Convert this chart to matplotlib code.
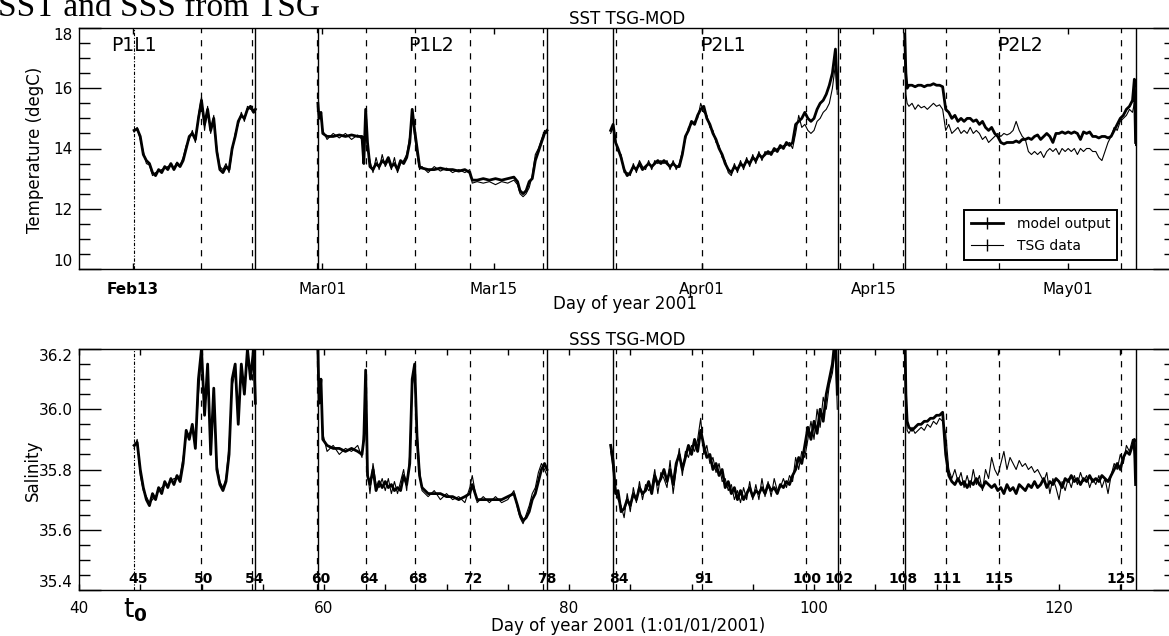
import matplotlib
matplotlib.use("Agg")
import matplotlib.pyplot as plt
from matplotlib.ticker import MultipleLocator
from matplotlib.lines import Line2D

# ---- data (day of year 2001) ----
leg1_day = [44.5, 44.75, 45.0, 45.25, 45.5, 45.75, 46.0, 46.25, 46.5, 46.75,
            47.0, 47.25, 47.5, 47.75, 48.0, 48.25, 48.5, 48.75, 49.0, 49.25,
            49.5, 49.75, 50.0, 50.25, 50.5, 50.75, 51.0, 51.25, 51.5, 51.75,
            52.0, 52.25, 52.5, 52.75, 53.0, 53.25, 53.5, 53.75, 54.0, 54.25, 54.4]
leg1_sst_mod = [14.6, 14.65, 14.4, 13.8, 13.6, 13.5, 13.2, 13.1, 13.3, 13.2,
                13.4, 13.3, 13.5, 13.3, 13.5, 13.4, 13.6, 14.0, 14.4, 14.5,
                14.3, 15.0, 15.6, 14.8, 15.3, 14.6, 15.0, 13.9, 13.3, 13.2,
                13.4, 13.3, 14.0, 14.4, 14.9, 15.1, 15.0, 15.3, 15.4, 15.2, 15.3]
leg1_sst_tsg = [14.55, 14.7, 14.3, 13.9, 13.5, 13.45, 13.1, 13.2, 13.25, 13.3,
                13.35, 13.4, 13.45, 13.35, 13.55, 13.45, 13.7, 14.1, 14.3, 14.6,
                14.2, 15.1, 15.7, 14.6, 15.4, 14.5, 15.1, 14.0, 13.4, 13.3,
                13.5, 13.2, 13.9, 14.5, 14.8, 15.2, 14.9, 15.4, 15.3, 15.3, 15.2]
leg1_sss_mod = [35.88, 35.89, 35.80, 35.74, 35.70, 35.68, 35.72, 35.70, 35.74, 35.72,
                35.76, 35.74, 35.77, 35.75, 35.78, 35.76, 35.82, 35.93, 35.90, 35.95,
                35.87, 36.10, 36.20, 35.98, 36.15, 35.85, 36.07, 35.80, 35.75, 35.73,
                35.76, 35.85, 36.10, 36.15, 35.95, 36.15, 36.05, 36.20, 36.10, 36.20, 36.02]
leg1_sss_tsg = [35.87, 35.90, 35.78, 35.73, 35.71, 35.69, 35.70, 35.71, 35.73, 35.74,
                35.75, 35.75, 35.76, 35.77, 35.77, 35.78, 35.84, 35.91, 35.92, 35.93,
                35.89, 36.05, 36.18, 36.00, 36.12, 35.88, 36.05, 35.82, 35.76, 35.74,
                35.77, 35.88, 36.08, 36.12, 35.98, 36.12, 36.08, 36.17, 36.12, 36.18, 36.05]

leg2_day = [59.5, 59.6, 59.75, 59.9, 60.25, 60.75, 61.25, 61.75, 62.25, 62.75,
            63.1, 63.25, 63.4, 63.55, 63.75, 64.0, 64.25, 64.5, 64.75, 65.0,
            65.25, 65.5, 65.75, 66.0, 66.25, 66.5, 66.75, 67.0, 67.2, 67.4,
            67.6, 67.8, 68.0, 68.5, 69.0, 69.5, 70.0, 70.5, 71.0, 71.5,
            71.9, 72.1, 72.5, 73.0, 73.5, 74.0, 74.5, 75.0, 75.5, 75.8,
            76.0, 76.25, 76.5, 76.75, 77.0, 77.25, 77.5, 77.75, 78.0, 78.2]
leg2_sst_mod = [15.5, 15.0, 15.2, 14.5, 14.4, 14.4, 14.45, 14.4, 14.45, 14.4,
                14.4, 13.5, 15.3, 14.2, 13.4, 13.3, 13.5, 13.4, 13.6, 13.5,
                13.7, 13.4, 13.5, 13.3, 13.6, 13.5, 13.7, 14.2, 15.3, 14.6,
                14.0, 13.4, 13.35, 13.3, 13.3, 13.35, 13.3, 13.3, 13.25, 13.3,
                13.2, 12.95, 12.95, 13.0, 12.95, 13.0, 12.95, 13.0, 13.05, 12.9,
                12.6, 12.5, 12.6, 12.9, 13.0, 13.6, 13.9, 14.2, 14.5, 14.6]
leg2_sst_tsg = [15.4, 15.1, 15.0, 14.6, 14.3, 14.5, 14.35, 14.5, 14.3, 14.45,
                14.3, 13.7, 15.1, 14.0, 13.6, 13.2, 13.7, 13.3, 13.8, 13.4,
                13.6, 13.3, 13.7, 13.2, 13.5, 13.6, 13.8, 14.4, 15.1, 14.4,
                13.8, 13.3, 13.4, 13.2, 13.4, 13.25, 13.35, 13.2, 13.3, 13.2,
                13.3, 12.85, 12.9, 12.85, 12.9, 12.8, 12.9, 12.85, 12.95, 12.8,
                12.5, 12.4, 12.5, 12.7, 13.1, 13.8, 14.0, 14.3, 14.6, 14.5]
leg2_sss_mod = [36.2, 36.02, 36.1, 35.9, 35.88, 35.87, 35.87, 35.86, 35.87, 35.86,
                35.85, 35.9, 36.13, 35.78, 35.75, 35.8, 35.73, 35.76, 35.74, 35.76,
                35.74, 35.75, 35.73, 35.74, 35.73, 35.78, 35.75, 35.82, 36.1, 36.15,
                35.9, 35.78, 35.74, 35.72, 35.72, 35.72, 35.71, 35.71, 35.7, 35.71,
                35.72, 35.75, 35.7, 35.7, 35.7, 35.7, 35.7, 35.71, 35.72, 35.68,
                35.65, 35.63, 35.64, 35.66, 35.7, 35.72, 35.76, 35.8, 35.82, 35.8]
leg2_sss_tsg = [36.15, 36.05, 36.08, 35.92, 35.86, 35.88, 35.85, 35.87, 35.86, 35.88,
                35.84, 35.93, 36.1, 35.8, 35.72, 35.82, 35.75, 35.74, 35.77, 35.73,
                35.77, 35.72, 35.76, 35.72, 35.76, 35.8, 35.73, 35.85, 36.08, 36.12,
                35.93, 35.8, 35.73, 35.71, 35.73, 35.7, 35.72, 35.7, 35.71, 35.69,
                35.74, 35.78, 35.69, 35.71, 35.69, 35.71, 35.69, 35.7, 35.73, 35.67,
                35.64, 35.62, 35.65, 35.68, 35.72, 35.74, 35.79, 35.82, 35.8, 35.78]

leg3_day = [83.4, 83.6, 83.8,
            84.0, 84.25, 84.5, 84.75, 85.0, 85.25, 85.5, 85.75, 86.0, 86.25, 86.5, 86.75,
            87.0, 87.25, 87.5, 87.75, 88.0, 88.25, 88.5, 88.75, 89.0, 89.25, 89.5, 89.75,
            90.0, 90.25, 90.5, 90.75, 91.0, 91.25, 91.5, 91.75, 92.0, 92.25, 92.5, 92.75,
            93.0, 93.25, 93.5, 93.75, 94.0, 94.25, 94.5, 94.75, 95.0, 95.25, 95.5, 95.75,
            96.0, 96.25, 96.5, 96.75, 97.0, 97.25, 97.5, 97.75, 98.0, 98.25, 98.5, 98.75,
            99.0, 99.25, 99.5, 99.75, 100.0, 100.25, 100.5, 100.75, 101.0, 101.25, 101.5, 101.75,
            101.9]
leg3_sst_mod = [14.6, 14.8, 14.2,
                14.0, 13.7, 13.3, 13.1, 13.2, 13.4, 13.3, 13.5, 13.3, 13.4, 13.5, 13.4,
                13.5, 13.6, 13.5, 13.6, 13.5, 13.4, 13.5, 13.4, 13.4, 13.8, 14.4, 14.6,
                14.9, 14.8, 15.1, 15.3, 15.4, 15.0, 14.8, 14.5, 14.3, 14.0, 13.8, 13.5,
                13.3, 13.2, 13.4, 13.3, 13.5, 13.4, 13.6, 13.5, 13.7, 13.6, 13.8, 13.7,
                13.8, 13.9, 13.8, 14.0, 13.9, 14.1, 14.0, 14.2, 14.1, 14.2, 14.8, 14.9,
                15.0, 15.2, 15.0, 14.9, 15.0, 15.3, 15.5, 15.6, 15.8, 16.1, 16.5, 17.3,
                16.0]
leg3_sst_tsg = [14.5, 14.7, 14.3,
                13.9, 13.8, 13.2, 13.2, 13.1, 13.5, 13.2, 13.6, 13.4, 13.3, 13.6, 13.3,
                13.6, 13.5, 13.6, 13.5, 13.6, 13.3, 13.6, 13.3, 13.5, 13.9, 14.3, 14.7,
                14.8, 14.9, 15.0, 15.5, 15.2, 15.1, 14.7, 14.6, 14.2, 14.1, 13.7, 13.6,
                13.2, 13.1, 13.5, 13.2, 13.6, 13.3, 13.7, 13.4, 13.8, 13.5, 13.9, 13.6,
                13.9, 13.8, 13.9, 13.9, 14.0, 14.0, 14.1, 14.1, 14.2, 14.0, 14.5, 15.1,
                14.7, 14.8, 14.6, 14.5, 14.6, 14.9, 15.0, 15.2, 15.3, 15.5, 16.0, 16.8,
                15.8]
leg3_sss_mod = [35.88, 35.83, 35.72,
                35.73, 35.66, 35.67, 35.70, 35.68, 35.72, 35.70, 35.74, 35.72, 35.73, 35.76, 35.72,
                35.78, 35.75, 35.77, 35.80, 35.76, 35.80, 35.75, 35.82, 35.85, 35.80, 35.84, 35.88,
                35.85, 35.90, 35.86, 35.93, 35.88, 35.84, 35.85, 35.80, 35.82, 35.78, 35.80, 35.74,
                35.76, 35.72, 35.74, 35.70, 35.73, 35.70, 35.72, 35.74, 35.71, 35.73, 35.72, 35.74,
                35.72, 35.75, 35.73, 35.74, 35.72, 35.75, 35.74, 35.76, 35.75, 35.78, 35.80, 35.84,
                35.82, 35.88, 35.94, 35.90, 35.96, 35.92, 36.00, 35.96, 36.05, 36.10, 36.15, 36.25,
                36.05]
leg3_sss_tsg = [35.86, 35.80, 35.74,
                35.70, 35.68, 35.64, 35.72, 35.66, 35.74, 35.69, 35.76, 35.70, 35.75, 35.73, 35.74,
                35.80, 35.72, 35.79, 35.77, 35.74, 35.83, 35.72, 35.80, 35.87, 35.78, 35.86, 35.84,
                35.88, 35.86, 35.90, 35.97, 35.85, 35.88, 35.82, 35.84, 35.79, 35.82, 35.76, 35.77,
                35.73, 35.75, 35.70, 35.73, 35.69, 35.74, 35.70, 35.76, 35.70, 35.75, 35.70, 35.77,
                35.71, 35.76, 35.71, 35.77, 35.73, 35.74, 35.77, 35.74, 35.78, 35.76, 35.84, 35.80,
                35.86, 35.84, 35.90, 35.96, 35.90, 36.00, 35.94, 36.04, 36.00, 36.08, 36.12, 36.20,
                36.00]

leg4_day = [107.4, 107.5, 107.6, 107.75,
            108.0, 108.25, 108.5, 108.75, 109.0, 109.25, 109.5, 109.75, 110.0, 110.25, 110.5, 110.75,
            111.0, 111.25, 111.5, 111.75, 112.0, 112.25, 112.5, 112.75, 113.0, 113.25, 113.5, 113.75,
            114.0, 114.25, 114.5, 114.75, 115.0, 115.25, 115.5, 115.75, 116.0, 116.25, 116.5, 116.75,
            117.0, 117.25, 117.5, 117.75, 118.0, 118.25, 118.5, 118.75, 119.0, 119.25, 119.5, 119.75,
            120.0, 120.25, 120.5, 120.75, 121.0, 121.25, 121.5, 121.75, 122.0, 122.25, 122.5, 122.75,
            123.0, 123.25, 123.5, 123.75, 124.0, 124.25, 124.5, 124.75, 125.0, 125.25, 125.5, 125.75,
            126.0, 126.15, 126.25]
leg4_sst_mod = [17.8, 16.5, 16.0, 16.1,
                16.1, 16.05, 16.1, 16.1, 16.05, 16.1, 16.1, 16.15, 16.1, 16.1, 16.05, 15.3,
                15.2, 15.0, 15.1, 14.9, 15.0, 14.9, 15.0, 15.0, 14.9, 14.95, 14.8, 14.9,
                14.7, 14.6, 14.7, 14.5, 14.4, 14.2, 14.15, 14.2, 14.2, 14.2, 14.25, 14.2,
                14.3, 14.3, 14.35, 14.3, 14.4, 14.45, 14.3, 14.4, 14.5, 14.4, 14.2, 14.5,
                14.5, 14.55, 14.5, 14.55, 14.5, 14.55, 14.5, 14.3, 14.55, 14.5, 14.55, 14.4,
                14.4, 14.35, 14.4, 14.4, 14.35, 14.4, 14.6, 14.8, 15.0, 15.1, 15.3, 15.4,
                15.6, 16.3, 14.2]
leg4_sst_tsg = [17.0, 15.8, 15.5, 15.4,
                15.5, 15.3, 15.45, 15.35, 15.4, 15.3, 15.4, 15.5, 15.4, 15.45, 15.3, 14.6,
                14.8, 14.5, 14.6, 14.7, 14.5, 14.6, 14.5, 14.7, 14.5, 14.6, 14.5, 14.3,
                14.4, 14.2, 14.3, 14.4, 14.5, 14.4, 14.5, 14.45, 14.5, 14.6, 14.9, 14.6,
                14.4, 14.3, 13.9, 13.8, 13.9, 13.8, 13.9, 13.7, 13.9, 14.0, 13.9, 14.0,
                13.8, 14.0, 13.9, 14.0, 13.9, 14.0, 13.8, 14.0, 13.9, 14.0, 14.0, 13.9,
                13.9, 13.7, 13.6, 13.9, 14.2, 14.4, 14.7, 14.6, 14.9, 15.0, 15.1, 15.3,
                15.2, 15.5, 14.1]
leg4_sss_mod = [36.3, 36.05, 35.96, 35.94,
                35.93, 35.94, 35.95, 35.95, 35.96, 35.96, 35.97, 35.97, 35.98, 35.98, 35.99, 35.85,
                35.78, 35.76, 35.75, 35.77, 35.75, 35.76, 35.74, 35.76, 35.75, 35.77, 35.75, 35.74,
                35.76, 35.75, 35.74, 35.75, 35.73, 35.74, 35.72, 35.75, 35.73, 35.74, 35.72, 35.75,
                35.74, 35.73, 35.75, 35.74, 35.76, 35.74, 35.75, 35.77, 35.74, 35.76, 35.75, 35.77,
                35.76, 35.74, 35.77, 35.76, 35.78, 35.76, 35.77, 35.75, 35.77, 35.76, 35.78, 35.76,
                35.77, 35.76, 35.78, 35.77, 35.76, 35.78, 35.80, 35.82, 35.80, 35.84, 35.86, 35.85,
                35.88, 35.90, 35.75]
leg4_sss_tsg = [36.2, 36.0, 35.93, 35.92,
                35.94, 35.92, 35.93, 35.94, 35.93, 35.95, 35.94, 35.96, 35.95, 35.97, 35.96, 35.92,
                35.80, 35.77, 35.80, 35.76, 35.79, 35.74, 35.78, 35.74, 35.80, 35.75, 35.78, 35.73,
                35.80, 35.77, 35.84, 35.80, 35.78, 35.82, 35.86, 35.80, 35.84, 35.82, 35.80, 35.83,
                35.81, 35.82, 35.80, 35.81, 35.79, 35.80, 35.78, 35.76, 35.79, 35.72, 35.77, 35.74,
                35.70, 35.76, 35.73, 35.77, 35.74, 35.78, 35.75, 35.79, 35.76, 35.78, 35.74, 35.77,
                35.75, 35.78, 35.74, 35.77, 35.72, 35.78, 35.82, 35.80, 35.85, 35.82, 35.88, 35.86,
                35.90, 35.85, 35.77]

# station markers / leg boundaries
t0_day = 44.5
dashed_days = [49.95, 54.15, 59.45, 63.45, 67.45, 71.9, 77.9, 83.8, 90.85,
               99.35, 102.1, 107.3, 110.8, 115.1, 125.05]
solid_days = [54.4, 59.55, 78.2, 83.6, 101.95, 107.45, 126.25]
station_labels = ['45', '50', '54', '60', '64', '68', '72', '78', '84', '91',
                  '100', '102', '108', '111', '115', '125']
station_label_days = [44.82, 50.2, 54.37, 59.76, 63.67, 67.67, 72.16, 78.2, 84.08,
                      91.02, 99.43, 102.04, 107.27, 110.86, 115.1, 125.06]
leg_names = ['P1L1', 'P1L2', 'P2L1', 'P2L2']
leg_name_days = [44.5, 68.7, 92.6, 116.8]
month_ticks = [44.4, 59.85, 73.85, 90.85, 104.85, 120.7]
month_labels = ['Feb13', 'Mar01', 'Mar15', 'Apr01', 'Apr15', 'May01']

legs = [
    (leg1_day, leg1_sst_mod, leg1_sst_tsg, leg1_sss_mod, leg1_sss_tsg),
    (leg2_day, leg2_sst_mod, leg2_sst_tsg, leg2_sss_mod, leg2_sss_tsg),
    (leg3_day, leg3_sst_mod, leg3_sst_tsg, leg3_sss_mod, leg3_sss_tsg),
    (leg4_day, leg4_sst_mod, leg4_sst_tsg, leg4_sss_mod, leg4_sss_tsg),
]

W, H = 1169, 636
fig = plt.figure(figsize=(W / 100, H / 100), dpi=100)


def px_axes(x0, y0, x1, y1):
    return fig.add_axes([x0 / W, 1 - y1 / H, (x1 - x0) / W, (y1 - y0) / H])


ax1 = px_axes(79, 28, 1175.4, 269)
ax2 = px_axes(79, 349, 1175.4, 590)

for d, t_mod, t_tsg, s_mod, s_tsg in legs:
    ax1.plot(d, t_mod, color='k', lw=2.0, zorder=3)
    ax1.plot(d, t_tsg, color='k', lw=0.8, zorder=4)
    ax2.plot(d, s_mod, color='k', lw=2.0, zorder=3)
    ax2.plot(d, s_tsg, color='k', lw=0.8, zorder=4)

for ax in (ax1, ax2):
    ax.axvline(t0_day, color='k', lw=0.8, ls=(0, (3, 1.5, 1, 1.5)))
    for d in dashed_days:
        ax.axvline(d, color='k', lw=0.9, ls=(0, (5, 5.5)))
    for d in solid_days:
        ax.axvline(d, color='k', lw=1.0)
    ax.set_xlim(40, 129.5)
    for s in ax.spines.values():
        s.set_linewidth(1.0)
    ax.tick_params(axis='y', which='major', direction='in', length=15.8, width=1,
                   left=True, right=True, pad=4.3, labelsize=11)
    ax.tick_params(axis='y', which='minor', direction='in', length=7.9, width=1,
                   left=True, right=True)
    ax.tick_params(axis='x', which='both', direction='in', length=4.3, width=1,
                   top=True, bottom=True, labelsize=11)

# top panel: SST
ax1.set_ylim(10, 18)
ax1.set_yticks([10, 12, 14, 16, 18])
ax1.yaxis.set_minor_locator(MultipleLocator(0.5))
ax1.set_xticks(month_ticks)
ax1.set_xticklabels(month_labels)
ax1.get_xticklabels()[0].set_fontweight('bold')
ax1.tick_params(axis='x', pad=9.4)
ax1.set_title('SST TSG-MOD', fontsize=12, pad=3)
for name, d in zip(leg_names, leg_name_days):
    ax1.text(d, 17.43, name, fontsize=13.5, ha='center', va='center', zorder=5)

h_mod = Line2D([], [], color='k', lw=2.0, marker='|', markersize=9, markeredgewidth=1)
h_tsg = Line2D([], [], color='k', lw=0.8, marker='|', markersize=9, markeredgewidth=1)
leg = ax1.legend([h_mod, h_tsg], ['model output', 'TSG data'], loc='lower right',
                 bbox_to_anchor=(0.9467, 0.0373), borderaxespad=0, fontsize=10,
                 frameon=True, fancybox=False, framealpha=1, edgecolor='k',
                 handlelength=2.3, handletextpad=1.0, borderpad=0.5, labelspacing=0.6,
                 numpoints=1)
leg.get_frame().set_linewidth(1.4)
leg.set_zorder(6)

# bottom panel: SSS
ax2.set_ylim(35.4, 36.2)
ax2.set_yticks([35.4, 35.6, 35.8, 36.0, 36.2])
ax2.set_yticklabels(['35.4', '35.6', '35.8', '36.0', '36.2'])
ax2.yaxis.set_minor_locator(MultipleLocator(0.05))
ax2.xaxis.set_major_locator(MultipleLocator(20))
ax2.xaxis.set_minor_locator(MultipleLocator(5))
ax2.tick_params(axis='x', pad=8)
ax2.set_title('SSS TSG-MOD', fontsize=12, pad=3)
for lab, d in zip(station_labels, station_label_days):
    ax2.text(d, 35.412, lab, fontsize=10, fontweight='bold', ha='center', va='bottom',
             zorder=5)

# end labels pushed inside the axis range, as in the original
for ax in (ax1, ax2):
    ticks = ax.yaxis.get_major_ticks()
    ticks[0].label1.set_va('bottom')
    ticks[-1].label1.set_va('top')

# figure title sits partly above the top edge, as in the original
fig.text(-2 / W, 1 - 16 / H, 'SST and SSS from TSG', family='Liberation Serif',
         fontsize=24, ha='left', va='baseline')
fig.text(625 / W, 1 - 304 / H, 'Day of year 2001', fontsize=12, ha='center', va='center')
fig.text(628 / W, 1 - 626 / H, 'Day of year 2001 (1:01/01/2001)', fontsize=12,
         ha='center', va='center')
fig.text(35 / W, 1 - 150 / H, 'Temperature (degC)', fontsize=12, rotation=90,
         ha='center', va='center')
fig.text(33 / W, 1 - 470 / H, 'Salinity', fontsize=12, rotation=90,
         ha='center', va='center')
fig.text(135 / W, 1 - 610 / H, r'$\mathregular{t}_{\mathbf{0}}$', fontsize=19,
         ha='center', va='center')

fig.savefig('out.png', dpi=100)
